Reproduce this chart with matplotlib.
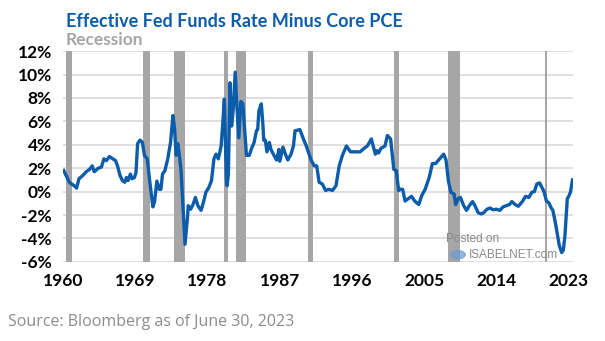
import matplotlib.pyplot as plt
import numpy as np

# recession periods (start, end) in decimal years
rec_start = [1960.33, 1969.92, 1973.83, 1980.0, 1981.5, 1990.5, 2001.17, 2007.92, 2020.08]
rec_end = [1961.08, 1970.83, 1975.17, 1980.5, 1982.83, 1991.17, 2001.83, 2009.42, 2020.3]

# effective fed funds rate minus core PCE (%)
years = [1960.1, 1960.8, 1961.5, 1961.7, 1962.0, 1962.5, 1962.9, 1963.3, 1963.65, 1963.9,
         1964.4, 1964.8, 1965.1, 1965.4, 1965.8, 1966.1, 1966.55, 1966.8, 1967.1, 1967.4,
         1967.7, 1967.9, 1968.1, 1968.4, 1968.6, 1968.9, 1969.1, 1969.3, 1969.6, 1969.9,
         1970.15, 1970.5, 1970.77, 1971.2, 1971.4, 1971.7, 1972.0, 1972.2, 1972.4, 1972.7,
         1973.05, 1973.4, 1973.7, 1973.9, 1974.1, 1974.3, 1974.5, 1974.7, 1974.9, 1975.2,
         1975.5, 1975.6, 1975.9, 1976.2, 1976.5, 1976.8, 1977.2, 1977.5, 1977.8, 1978.2,
         1978.5, 1978.8, 1979.05, 1979.35, 1979.7, 1979.9, 1980.1, 1980.35, 1980.45, 1980.6,
         1980.8, 1981.0, 1981.2, 1981.45, 1981.65, 1981.9, 1982.15, 1982.4, 1982.85, 1983.2,
         1983.5, 1983.8, 1984.1, 1984.25, 1984.4, 1984.7, 1984.9, 1985.0, 1985.2, 1985.4,
         1985.7, 1985.9, 1986.2, 1986.6, 1986.9, 1987.0, 1987.4, 1987.7, 1988.0, 1988.4,
         1988.7, 1988.9, 1989.5, 1990.0, 1990.3, 1990.9, 1991.3, 1991.6, 1991.9, 1992.3,
         1992.7, 1993.1, 1993.55, 1994.0, 1994.4, 1994.8, 1995.3, 1995.8, 1996.4, 1997.0,
         1997.5, 1997.9, 1998.4, 1998.9, 1999.1, 1999.3, 1999.6, 2000.1, 2000.4, 2000.8,
         2001.2, 2001.5, 2001.8, 2002.0, 2002.3, 2002.6, 2003.0, 2003.4, 2003.8, 2004.3,
         2004.7, 2005.1, 2005.6, 2006.0, 2006.4, 2006.9, 2007.4, 2007.7, 2008.0, 2008.3,
         2008.7, 2008.9, 2009.2, 2009.5, 2009.9, 2010.25, 2010.6, 2011.0, 2011.3, 2011.7,
         2012.1, 2012.4, 2012.8, 2013.2, 2013.55, 2013.97, 2014.4, 2014.8, 2015.2, 2015.6,
         2015.9, 2016.3, 2016.7, 2017.2, 2017.6, 2018.0, 2018.4, 2018.7, 2019.0, 2019.35,
         2019.6, 2019.9, 2020.2, 2020.5, 2020.8, 2021.0, 2021.3, 2021.6, 2021.8, 2022.1,
         2022.3, 2022.5, 2022.8, 2023.05, 2023.2, 2023.45]
values = [1.8, 0.8, 0.45, 0.3, 1.1, 1.4, 1.7, 1.9, 2.2, 1.7,
          2.0, 2.1, 2.8, 2.65, 3.0, 2.85, 2.65, 2.2, 1.4, 0.95,
          0.8, 1.2, 0.95, 1.5, 1.1, 1.2, 1.65, 4.1, 4.4, 4.2,
          3.1, 2.8, 1.1, -1.3, -0.9, 0.9, 0.2, 0.2, 1.5, 1.8,
          2.8, 4.2, 6.5, 5.4, 3.1, 4.1, 3.1, 1.9, -0.6, -4.5,
          -2.3, -1.2, -1.5, -1.1, -0.5, -1.2, -1.6, -0.9, -0.05, 0.4,
          0.95, 2.8, 3.2, 2.8, 3.9, 5.8, 7.9, 1.0, 0.5, 1.5,
          9.3, 5.6, 7.0, 10.2, 7.4, 4.6, 7.7, 7.5, 3.1, 3.1,
          3.7, 4.2, 5.2, 5.3, 6.9, 7.5, 5.7, 4.4, 4.4, 3.4,
          4.2, 3.6, 3.2, 2.7, 3.6, 2.6, 3.8, 3.2, 2.7, 3.2,
          3.9, 5.2, 5.3, 4.4, 3.9, 2.7, 2.2, 2.2, 0.8, 0.65,
          0.1, 0.2, 0.1, 0.5, 2.2, 3.1, 3.9, 3.4, 3.4, 3.4,
          3.7, 3.9, 4.5, 3.2, 3.5, 3.3, 3.7, 3.9, 4.8, 4.5,
          1.9, 1.8, 0.1, 0.2, 0.2, -0.8, -0.6, -0.4, -0.8, -1.1,
          -0.3, 0.2, 1.2, 2.4, 2.4, 2.8, 3.2, 2.7, 0.9, -0.05,
          -0.2, -1.1, -0.6, -0.5, -1.2, -1.6, -1.2, -0.85, -1.2, -1.8,
          -1.9, -1.8, -1.5, -1.4, -1.55, -1.5, -1.6, -1.3, -1.2, -1.1,
          -0.85, -1.1, -1.25, -0.85, -0.4, -0.5, -0.05, 0.0, 0.65, 0.75,
          0.4, 0.0, -0.8, -0.95, -1.4, -1.6, -2.6, -3.8, -4.6, -5.2,
          -5.0, -3.8, -0.6, -0.3, 0.0, 1.0]

xtick_years = [1960, 1969, 1978, 1987, 1996, 2005, 2014, 2023]
ytick_vals = [-6, -4, -2, 0, 2, 4, 6, 8, 10, 12]

fig = plt.figure(figsize=(6.05, 3.41), dpi=100)
ax = fig.add_axes([0.104, 0.232, 0.843, 0.618])

for s, e in zip(rec_start, rec_end):
    ax.axvspan(s, e, color="#a6a6a6", lw=0, zorder=1)

for v in ytick_vals:
    ax.axhline(v, color="#d9d9d9", lw=1.2, zorder=0)

ax.plot(years, values, color="#0b5cab", lw=2.4, zorder=3, solid_joinstyle="round")

ax.set_xlim(1960, 2023.5)
ax.set_ylim(-6, 12)
ax.set_xticks(xtick_years)
ax.set_xticklabels([str(y) for y in xtick_years])
ax.set_yticks(ytick_vals)
ax.set_yticklabels([f"{v}%" for v in ytick_vals])
for sp in ax.spines.values():
    sp.set_visible(False)
ax.tick_params(axis="both", length=0, labelsize=12.5)
ax.tick_params(axis="x", pad=8)
ax.tick_params(axis="y", pad=8)
for lbl in ax.get_xticklabels() + ax.get_yticklabels():
    lbl.set_fontfamily("Lato")
    lbl.set_fontweight("bold")
    lbl.set_color("black")

fig.text(0.109, 0.938, "Effective Fed Funds Rate Minus Core PCE", fontsize=13,
         fontweight="bold", color="#0b5cab", family="Lato", va="center")
fig.text(0.109, 0.882, "Recession", fontsize=12.5, fontweight="bold",
         color="#a6a6a6", family="Lato", va="center")
fig.text(0.013, 0.055, "Source: Bloomberg as of June 30, 2023", fontsize=11.5,
         color="#8c8c8c", family="Open Sans", va="center")

# watermark
fig.text(0.738, 0.300, "Posted on", fontsize=8.5, color="#8a8a8a",
         family="Liberation Sans", va="center")
fig.text(0.775, 0.253, "ISABELNET.com", fontsize=8.5, color="#8a8a8a",
         family="Liberation Sans", va="center")
fig.patches.append(plt.Circle((0.757, 0.253), 0.012, transform=fig.transFigure,
                              color="#6a9bd0", alpha=0.7, figure=fig))

fig.savefig("out.png", dpi=100)
